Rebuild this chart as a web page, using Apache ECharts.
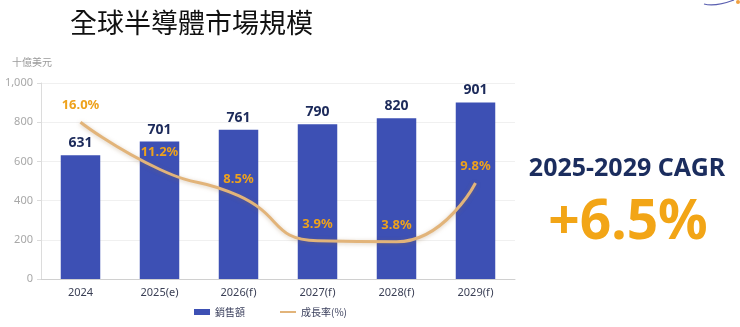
<!DOCTYPE html>
<html>
<head>
<meta charset="utf-8">
<script src="https://cdn.jsdelivr.net/npm/echarts@6/dist/echarts.min.js"></script>
<style>
  html, body { margin: 0; padding: 0; background: #fff; }
  #chart { width: 740px; height: 327px; }
</style>
</head>
<body>
<div id="chart"></div>
<script>
// Global semiconductor market size (billion USD) and annual growth rate
const years = ['2024', '2025(e)', '2026(f)', '2027(f)', '2028(f)', '2029(f)'];
const sales = [631, 701, 761, 790, 820, 901];
const growth = [16.0, 11.2, 8.5, 3.9, 3.8, 9.8];
const yTicks = [0, 200, 400, 600, 800, 1000];

const FONT = '"Noto Sans", "Noto Sans CJK TC", sans-serif';
const CJK = '"Noto Sans CJK TC", "Noto Sans", sans-serif';
const LINE_COLOR = '#e2b47a';

const chart = echarts.init(document.getElementById('chart'), null, { renderer: 'canvas' });

chart.setOption({
  animation: false,
  backgroundColor: '#ffffff',
  grid: { left: 41, right: 225, top: 83, bottom: 48, containLabel: false },
  legend: {
    left: 189,
    top: 302,
    itemWidth: 16,
    itemHeight: 6,
    itemGap: 34,
    textStyle: { fontFamily: CJK, fontSize: 10, color: '#3a3f5c' },
    data: [
      { name: '銷售額', icon: 'rect' },
      { name: '成長率(%)', itemStyle: { color: LINE_COLOR, opacity: 0 } }
    ]
  },
  xAxis: {
    type: 'category',
    data: years,
    axisLine: { lineStyle: { color: '#d0d0d0' } },
    axisTick: { length: 5, lineStyle: { color: '#d0d0d0' } },
    axisLabel: { color: '#3a3f55', fontSize: 11, fontFamily: FONT, margin: 8 }
  },
  yAxis: [
    {
      type: 'value',
      min: yTicks[0],
      max: yTicks[yTicks.length - 1],
      interval: 200,
      axisLine: { show: true, lineStyle: { color: '#dcdcdc' } },
      axisTick: { show: true, length: 4, lineStyle: { color: '#dcdcdc' } },
      axisLabel: {
        color: '#a8a8a8', fontSize: 11, fontFamily: FONT, margin: 8,
        formatter: v => v.toLocaleString('en-US')
      },
      splitLine: { lineStyle: { color: '#f0f0f0' } }
    },
    {
      type: 'value',
      min: 0,
      max: 20,
      show: false,
      splitLine: { show: false }
    }
  ],
  series: [
    {
      name: '銷售額',
      type: 'bar',
      data: sales,
      barWidth: '50%',
      itemStyle: { color: '#3d50b4' },
      label: {
        show: true,
        position: 'top',
        distance: 5,
        color: '#1c2a5a',
        fontSize: 14,
        fontWeight: 'bold',
        fontFamily: FONT
      }
    },
    {
      name: '成長率(%)',
      type: 'line',
      yAxisIndex: 1,
      data: growth,
      smooth: 0.55,
      symbol: 'circle',
      symbolSize: 0,
      itemStyle: { color: LINE_COLOR },
      lineStyle: {
        width: 3,
        color: LINE_COLOR,
        shadowColor: 'rgba(150, 110, 60, 0.35)',
        shadowBlur: 4,
        shadowOffsetY: 1
      },
      label: {
        show: true,
        position: 'top',
        distance: 10,
        color: '#eea21c',
        fontSize: 13,
        fontWeight: 'bold',
        fontFamily: FONT,
        formatter: p => p.value.toFixed(1) + '%'
      },
      z: 5
    }
  ],
  graphic: [
    {
      type: 'text',
      left: 70,
      top: 9,
      style: {
        text: '全球半導體市場規模',
        font: '27px ' + CJK,
        fill: '#111111'
      }
    },
    {
      type: 'text',
      left: 12,
      top: 57,
      style: {
        text: '十億美元',
        font: '10px ' + CJK,
        fill: '#9a9a9a'
      }
    },
    {
      type: 'text',
      x: 627,
      y: 169,
      style: {
        text: '2025-2029 CAGR',
        font: 'bold 25px "Noto Sans", sans-serif',
        fill: '#1b2d5e',
        align: 'center',
        verticalAlign: 'middle'
      }
    },
    {
      type: 'text',
      x: 628,
      y: 223,
      style: {
        text: '+6.5%',
        font: 'bold 55px "Noto Sans", sans-serif',
        fill: '#f2a516',
        align: 'center',
        verticalAlign: 'middle'
      }
    },
    {
      type: 'bezierCurve',
      shape: { x1: 704, y1: 4, x2: 734, y2: 0, cpx1: 715, cpy1: 7 },
      style: { stroke: '#5a5fb0', lineWidth: 1.2, fill: null }
    },
    {
      type: 'circle',
      shape: { cx: 738, cy: 2, r: 2 },
      style: { fill: '#f0a040' }
    }
  ]
});
</script>
</body>
</html>
